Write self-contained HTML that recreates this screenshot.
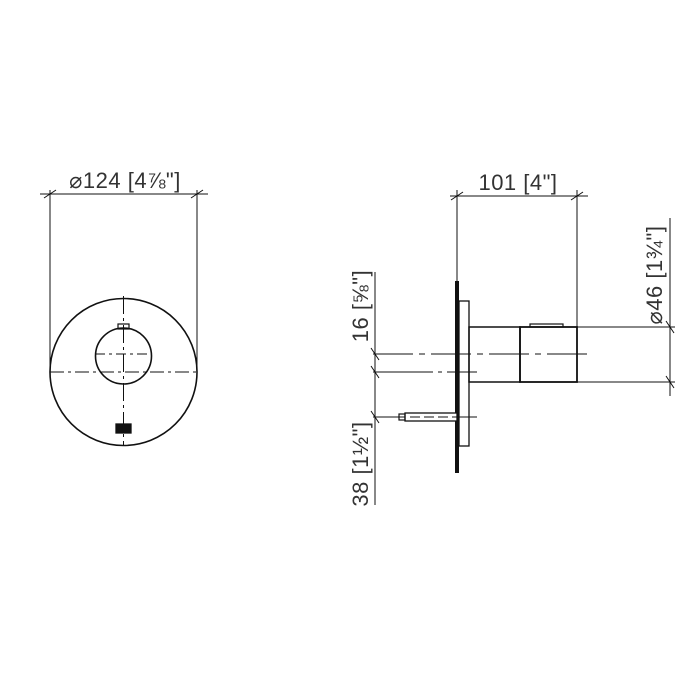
<!DOCTYPE html>
<html><head><meta charset="utf-8"><style>
html,body{margin:0;padding:0;background:#fff;}
svg{display:block;}
text{font-family:"Liberation Sans",sans-serif;fill:#333;letter-spacing:0.5px;}
</style></head><body>
<svg width="700" height="700" viewBox="0 0 700 700" xmlns="http://www.w3.org/2000/svg">
<g stroke="#111" fill="none" stroke-width="1.3">
<line x1="40" y1="194" x2="208" y2="194" stroke-width="1"/>
<line x1="44" y1="198" x2="56" y2="190" stroke-width="1"/>
<line x1="191" y1="198" x2="203" y2="190" stroke-width="1"/>
<line x1="50" y1="190" x2="50" y2="372" stroke-width="1"/>
<line x1="197" y1="190" x2="197" y2="372" stroke-width="1"/>
<circle cx="123.5" cy="372" r="73.5" stroke-width="1.6"/>
<circle cx="123.5" cy="356" r="28" stroke-width="1.6"/>
<rect x="118" y="324" width="11" height="5" stroke-width="1.2"/>
<line x1="50" y1="372" x2="197" y2="372" stroke-dasharray="14,4,3,4" stroke-width="1"/>
<line x1="95" y1="354" x2="152" y2="354" stroke-dasharray="10,4,3,4" stroke-width="1"/>
<line x1="123.5" y1="296" x2="123.5" y2="446" stroke-dasharray="18,4,3,4" stroke-width="1"/>
<rect x="116" y="424" width="15" height="9" fill="#111"/>
<line x1="450" y1="196" x2="588" y2="196" stroke-width="1"/>
<line x1="451" y1="200" x2="463" y2="192" stroke-width="1"/>
<line x1="571" y1="200" x2="583" y2="192" stroke-width="1"/>
<line x1="457" y1="190" x2="457" y2="281" stroke-width="1"/>
<line x1="577" y1="190" x2="577" y2="327" stroke-width="1"/>
<line x1="457" y1="281" x2="457" y2="473" stroke-width="4"/>
<rect x="459" y="301" width="10" height="145" stroke-width="1.3"/>
<rect x="469" y="327" width="51" height="55" stroke-width="1.5"/>
<rect x="520" y="327" width="57" height="55" stroke-width="1.8"/>
<rect x="530" y="324" width="33" height="3" stroke-width="1.2"/>
<line x1="373" y1="354" x2="588" y2="354" stroke-dasharray="40,6,6,6" stroke-width="1"/>
<line x1="373" y1="372" x2="477" y2="372" stroke-dasharray="60,5,4,5" stroke-width="1"/>
<line x1="373" y1="417" x2="477" y2="417" stroke-width="1"/>
<rect x="405" y="413" width="52" height="8" stroke-width="1.3" fill="#fff"/>
<rect x="399" y="414" width="6" height="6" stroke-width="1.2"/>
<line x1="410" y1="417" x2="470" y2="417" stroke-dasharray="10,4" stroke-width="1"/>
<line x1="577" y1="327" x2="675" y2="327" stroke-width="1"/>
<line x1="577" y1="382" x2="675" y2="382" stroke-width="1"/>
<line x1="670" y1="218" x2="670" y2="396" stroke-width="1"/>
<line x1="666" y1="321" x2="674" y2="333" stroke-width="1"/>
<line x1="666" y1="376" x2="674" y2="388" stroke-width="1"/>
<line x1="375" y1="272" x2="375" y2="505" stroke-width="1"/>
<line x1="371" y1="348" x2="379" y2="360" stroke-width="1"/>
<line x1="371" y1="366" x2="379" y2="378" stroke-width="1"/>
<line x1="371" y1="411" x2="379" y2="423" stroke-width="1"/>
</g>
<text x="125" y="188" font-size="22" text-anchor="middle">⌀124 [4⅞"]</text>
<text x="518" y="190" font-size="22" text-anchor="middle">101 [4"]</text>
<text transform="translate(662,275) rotate(-90)" font-size="22" text-anchor="middle">⌀46 [1¾"]</text>
<text transform="translate(368,306) rotate(-90)" font-size="22" text-anchor="middle">16 [⅝"]</text>
<text transform="translate(368,464) rotate(-90)" font-size="22" text-anchor="middle">38 [1½"]</text>
</svg>
</body></html>
